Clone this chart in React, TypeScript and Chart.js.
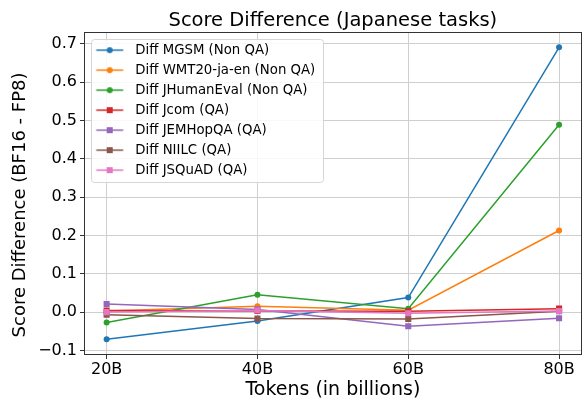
import React, { useEffect, useRef } from 'react';
import { Chart, registerables } from 'chart.js';

Chart.register(...registerables);

// ---- data ----
const categories = ['20B', '40B', '60B', '80B'];
const seriesLabels = [
  'Diff MGSM (Non QA)',
  'Diff WMT20-ja-en (Non QA)',
  'Diff JHumanEval (Non QA)',
  'Diff Jcom (QA)',
  'Diff JEMHopQA (QA)',
  'Diff NIILC (QA)',
  'Diff JSQuAD (QA)',
];
const mgsm = [-0.071, -0.023, 0.038, 0.691];
const wmt20 = [0.003, 0.015, 0.005, 0.213];
const jhumaneval = [-0.027, 0.045, 0.009, 0.489];
const jcom = [0.004, 0.003, 0.002, 0.009];
const jemhopqa = [0.021, 0.007, -0.037, -0.016];
const niilc = [-0.007, -0.017, -0.018, 0.002];
const jsquad = [0.0, 0.004, -0.003, 0.003];
const seriesValues = [mgsm, wmt20, jhumaneval, jcom, jemhopqa, niilc, jsquad];
const yTickValues = [-0.1, 0.0, 0.1, 0.2, 0.3, 0.4, 0.5, 0.6, 0.7];
const yTickLabels = ['\u22120.1', '0.0', '0.1', '0.2', '0.3', '0.4', '0.5', '0.6', '0.7'];

// ---- styles ----
const colors = ['#1f77b4', '#ff7f0e', '#2ca02c', '#d62728', '#9467bd', '#8c564b', '#e377c2'];
const markers = ['circle', 'circle', 'circle', 'rect', 'rect', 'rect', 'rect'];
const FONT = "'DejaVu Sans', 'Liberation Sans', sans-serif";

function makeLegendIcon(color: string, marker: string): HTMLCanvasElement {
  const c = document.createElement('canvas');
  c.width = 38;
  c.height = 14;
  const ctx = c.getContext('2d')!;
  ctx.strokeStyle = color;
  ctx.lineWidth = 1.5;
  ctx.beginPath();
  ctx.moveTo(5.5, 7);
  ctx.lineTo(32.5, 7);
  ctx.stroke();
  ctx.fillStyle = color;
  if (marker === 'circle') {
    ctx.beginPath();
    ctx.arc(19, 7, 3, 0, Math.PI * 2);
    ctx.fill();
  } else {
    ctx.fillRect(16, 4, 6, 6);
  }
  return c;
}

const legendBoxPlugin = {
  id: 'legendBox',
  afterLayout(chart: any) {
    const lg: any = chart.legend;
    if (!lg || lg.__patched) return;
    const orig = lg.draw.bind(lg);
    lg.draw = (...args: any[]) => {
      const hb = lg.legendHitBoxes as any[];
      if (hb && hb.length) {
        const ctx = chart.ctx as CanvasRenderingContext2D;
        const left = Math.round(Math.min(...hb.map((h) => h.left))) + 0.5;
        const top = Math.round(Math.min(...hb.map((h) => h.top)) - 5) + 0.5;
        const right = Math.round(Math.max(...hb.map((h) => h.left + h.width)) + 8) + 0.5;
        const bottom = Math.round(Math.max(...hb.map((h) => h.top + h.height)) + 5) + 0.5;
        ctx.save();
        ctx.beginPath();
        (ctx as any).roundRect(left, top, right - left, bottom - top, 3);
        ctx.fillStyle = 'rgba(255,255,255,0.85)';
        ctx.fill();
        ctx.strokeStyle = '#d5d5d5';
        ctx.lineWidth = 1;
        ctx.stroke();
        ctx.restore();
      }
      orig(...args);
    };
    lg.__patched = true;
  },
};

const framePlugin = {
  id: 'frame',
  afterDraw(chart: any) {
    const { ctx, chartArea } = chart;
    ctx.save();
    ctx.strokeStyle = '#333333';
    ctx.lineWidth = 1;
    const l = Math.round(chartArea.left) + 0.5;
    const t = Math.round(chartArea.top) + 0.5;
    const r = Math.round(chartArea.right) - 0.5;
    const b = Math.round(chartArea.bottom) - 0.5;
    ctx.strokeRect(l, t, r - l, b - t);
    ctx.restore();
  },
};

export default function App() {
  const ref = useRef<HTMLCanvasElement | null>(null);

  useEffect(() => {
    document.body.style.margin = '0';
    const canvas = ref.current!;
    const icons = colors.map((c, i) => makeLegendIcon(c, markers[i]));
    const datasets = seriesLabels.map((label, i) => ({
      label,
      data: seriesValues[i].map((v, j) => ({ x: j, y: v })),
      borderColor: colors[i],
      backgroundColor: colors[i],
      pointBackgroundColor: colors[i],
      pointBorderWidth: 0,
      pointStyle: markers[i],
      pointRadius: markers[i] === 'circle' ? 3 : 4.3,
      borderWidth: 1.5,
      tension: 0,
      fill: false,
      order: seriesLabels.length - i,
    }));

    const chart = new Chart(canvas, {
      type: 'line',
      data: { datasets },
      plugins: [legendBoxPlugin, framePlugin],
      options: {
        animation: false,
        responsive: false,
        layout: { padding: { left: 0, right: 4, top: 0, bottom: 0 } },
        plugins: {
          title: {
            display: true,
            fullSize: false,
            text: 'Score Difference (Japanese tasks)',
            color: '#000',
            font: { family: FONT, size: 19.5, weight: 'normal', lineHeight: 1.15 },
            padding: { top: 9.4, bottom: 0.2 },
          },
          tooltip: { enabled: false },
          legend: {
            display: true,
            position: 'chartArea',
            align: 'start',
            title: { display: true, text: '', font: { size: 1 }, padding: { top: 35.6, bottom: 0 } },
            labels: {
              usePointStyle: true,
              pointStyleWidth: 38,
              padding: 6.7,
              color: '#000',
              font: { family: FONT, size: 13.3 },
              generateLabels: () =>
                seriesLabels.map((text, i) => ({
                  text,
                  pointStyle: icons[i],
                  fillStyle: colors[i],
                  strokeStyle: colors[i],
                  lineWidth: 0,
                  hidden: false,
                  datasetIndex: i,
                  fontColor: '#000',
                })) as any,
            },
          },
        },
        scales: {
          x: {
            type: 'linear',
            min: -0.15,
            max: 3.15,
            afterBuildTicks: (scale: any) => {
              scale.ticks = categories.map((_, i) => ({ value: i }));
            },
            afterFit: (scale: any) => {
              scale.height = 45;
            },
            ticks: {
              callback: (value: any) => categories[Math.round(Number(value))] ?? '',
              color: '#000',
              font: { family: FONT, size: 16 },
              padding: 1,
              maxRotation: 0,
              autoSkip: false,
            },
            grid: { color: '#cfcfcf', lineWidth: 1, tickLength: 4, tickColor: '#333333', drawTicks: true },
            border: { display: false },
            title: {
              display: true,
              text: 'Tokens (in billions)',
              color: '#000',
              font: { family: FONT, size: 19 },
              padding: { top: 0, bottom: -1.5 },
            },
          },
          y: {
            type: 'linear',
            min: -0.112,
            max: 0.731,
            afterBuildTicks: (scale: any) => {
              scale.ticks = yTickValues.map((v) => ({ value: v }));
            },
            afterFit: (scale: any) => {
              scale.width = 84;
            },
            ticks: {
              callback: (_v: any, index: number) => yTickLabels[index] ?? '',
              color: '#000',
              font: { family: FONT, size: 16 },
              padding: 3,
              autoSkip: false,
            },
            grid: { color: '#cfcfcf', lineWidth: 1, tickLength: 4, tickColor: '#333333', drawTicks: true },
            border: { display: false },
            title: {
              display: true,
              text: 'Score Difference (BF16 - FP8)\u00a0\u00a0\u00a0\u00a0',
              color: '#000',
              font: { family: FONT, size: 18 },
              padding: { top: 10, bottom: 0 },
            },
          },
        },
      } as any,
    });
    return () => chart.destroy();
  }, []);

  return (
    <div style={{ width: 586, height: 400 }}>
      <canvas ref={ref} width={586} height={400} style={{ display: 'block' }} />
    </div>
  );
}
